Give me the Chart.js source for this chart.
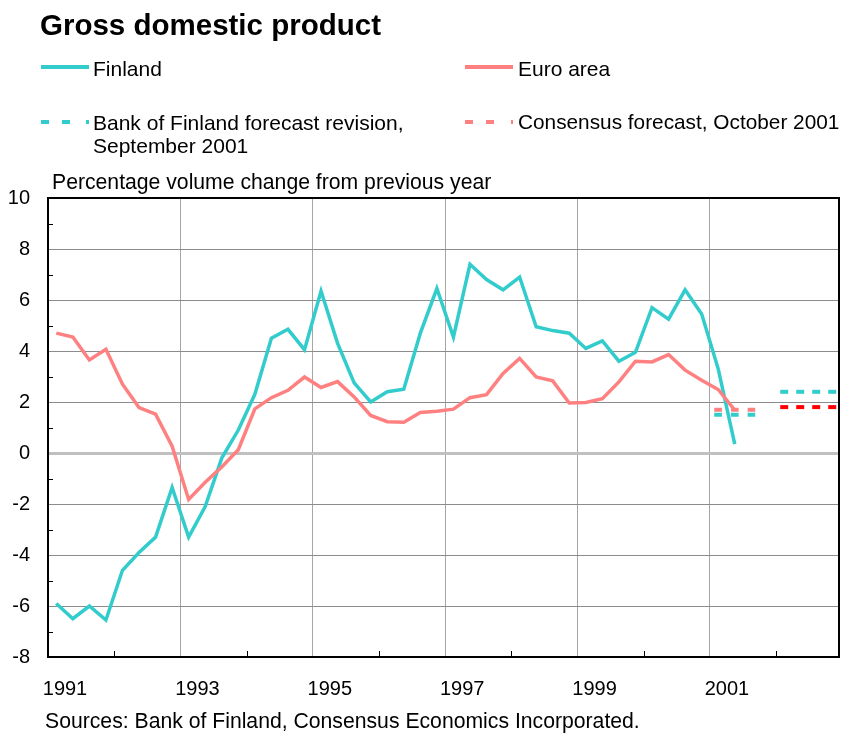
<!DOCTYPE html>
<html><head><meta charset="utf-8">
<script src="https://cdn.jsdelivr.net/npm/chart.js@4.4.1/dist/chart.umd.min.js"></script>
<style>
body{margin:0;background:#fff;}
#wrap{position:relative;width:846px;height:733px;font-family:"Liberation Sans",Arial,sans-serif;color:#000;overflow:hidden;}
canvas{position:absolute;left:0;top:0;}
.t{position:absolute;white-space:nowrap;line-height:1;font-size:21px;}
.sw{position:absolute;height:4px;width:48px;}
</style></head><body>
<div id="wrap">
<canvas id="c" width="846" height="733"></canvas>
<div class="t" style="left:40px;top:10px;font-size:29.5px;font-weight:bold">Gross domestic product</div>
<div class="sw" style="left:41px;top:65px;background:#33CCCC"></div>
<div class="t" style="left:93px;top:58px">Finland</div>
<div class="sw" style="left:465px;top:65px;background:#FF8080"></div>
<div class="t" style="left:518px;top:58px">Euro area</div>
<div class="sw" style="left:41px;top:120px;background:linear-gradient(to right,#33CCCC 0 8px,transparent 8px 21px,#33CCCC 21px 29px,transparent 29px 45.5px,#33CCCC 45.5px 48px)"></div>
<div class="t" style="left:93px;top:112px;line-height:22.6px">Bank of Finland forecast revision,<br>September 2001</div>
<div class="sw" style="left:465px;top:120px;background:linear-gradient(to right,#FF8080 0 8px,transparent 8px 21px,#FF8080 21px 29px,transparent 29px 45.5px,#FF8080 45.5px 48px)"></div>
<div class="t" style="left:518px;top:112px;font-size:20.8px">Consensus forecast, October 2001</div>
<div class="t" style="left:52px;top:171px;font-size:21.2px">Percentage volume change from previous year</div>
<div class="t" style="left:45px;top:710px;font-size:21.2px">Sources: Bank of Finland, Consensus Economics Incorporated.</div>
</div>
<script>
// ---- data ----
const quarters = [
 "1991 Q1","1991 Q2","1991 Q3","1991 Q4",
 "1992 Q1","1992 Q2","1992 Q3","1992 Q4",
 "1993 Q1","1993 Q2","1993 Q3","1993 Q4",
 "1994 Q1","1994 Q2","1994 Q3","1994 Q4",
 "1995 Q1","1995 Q2","1995 Q3","1995 Q4",
 "1996 Q1","1996 Q2","1996 Q3","1996 Q4",
 "1997 Q1","1997 Q2","1997 Q3","1997 Q4",
 "1998 Q1","1998 Q2","1998 Q3","1998 Q4",
 "1999 Q1","1999 Q2","1999 Q3","1999 Q4",
 "2000 Q1","2000 Q2","2000 Q3","2000 Q4",
 "2001 Q1","2001 Q2"
];
const finland = [
 -5.9,-6.5,-6.0,-6.55,
 -4.6,-3.9,-3.3,-1.35,
 -3.3,-2.1,-0.2,0.9,
 2.3,4.5,4.85,4.05,
 6.35,4.3,2.75,2.0,
 2.4,2.5,4.7,6.45,
 4.55,7.4,6.8,6.4,
 6.9,4.95,4.8,4.7,
 4.1,4.4,3.6,3.95,
 5.7,5.25,6.4,5.45,
 3.3,0.35
];
const euroArea = [
 4.7,4.55,3.65,4.07,
 2.7,1.78,1.52,0.27,
 -1.82,-1.15,-0.55,0.13,
 1.73,2.17,2.46,2.98,
 2.57,2.8,2.2,1.47,
 1.23,1.21,1.59,1.64,
 1.72,2.17,2.29,3.12,
 3.71,2.98,2.83,1.96,
 1.98,2.13,2.79,3.6,
 3.57,3.86,3.25,2.85,
 2.49,1.68
];
const forecastYears = [2001, 2002];
const bofForecast = [1.5, 2.4];
const consensusForecast = [1.7, 1.8];
const yearTicks = [1991,1992,1993,1994,1995,1996,1997,1998,1999,2000,2001,2002];
const yearLabels = ["1991","","1993","","1995","","1997","","1999","","2001",""];
const yValueTicks = [-8,-6,-4,-2,0,2,4,6,8,10];

// ---- build ----
const FONT = '"Liberation Sans", Arial, sans-serif';
const CYAN = '#33CCCC', PINK = '#FF8080', RED = '#FF0000';
const qx = q => { const [y, qq] = q.split(' Q'); return +y + (+qq - 0.5) / 4; };
const series = vals => vals.map((v, i) => ({x: qx(quarters[i]), y: v}));
const spans = [[0.065, 0.684], [0.062, 0.908]];
const fc = (vals, i) => [{x: forecastYears[i] + spans[i][0], y: vals[i]}, {x: forecastYears[i] + spans[i][1], y: vals[i]}];
const base = {pointRadius: 0, borderWidth: 3.5, tension: 0, fill: false, borderJoinStyle: 'miter'};
const dashed = {pointRadius: 0, borderWidth: 4, fill: false, borderCapStyle: 'butt'};

const framePlugin = {
  id: 'frame',
  afterDraw(chart) {
    const {ctx, chartArea: a, scales: {x, y}} = chart;
    ctx.save();
    ctx.strokeStyle = '#000';
    ctx.lineWidth = 1;
    for (let v = -7; v <= 9; v += 2) {
      const py = Math.round(y.getPixelForValue(v)) + 0.5;
      ctx.beginPath(); ctx.moveTo(a.left, py); ctx.lineTo(a.left + 5, py); ctx.stroke();
    }
    yearTicks.forEach(v => {
      if (v % 2 === 0) {
        const px = Math.round(x.getPixelForValue(v)) + 0.5;
        ctx.beginPath(); ctx.moveTo(px, a.bottom); ctx.lineTo(px, a.bottom - 6); ctx.stroke();
      }
    });
    ctx.lineWidth = 2;
    ctx.beginPath();
    ctx.moveTo(a.left, a.top); ctx.lineTo(a.right, a.top); ctx.lineTo(a.right, a.bottom);
    ctx.stroke();
    ctx.restore();
  }
};

new Chart(document.getElementById('c'), {
  type: 'line',
  data: {
    datasets: [
      {...base, label: 'Euro area', data: series(euroArea), borderColor: PINK},
      {...base, label: 'Finland', data: series(finland), borderColor: CYAN},
      {...dashed, label: 'Consensus 2001', data: fc(consensusForecast, 0), borderColor: PINK, borderDash: [7.7, 9]},
      {...dashed, label: 'BoF 2001', data: fc(bofForecast, 0), borderColor: CYAN, borderDash: [7.7, 9]},
      {...dashed, label: 'BoF 2002', data: fc(bofForecast, 1), borderColor: CYAN, borderDash: [8, 8]},
      {...dashed, label: 'Consensus 2002', data: fc(consensusForecast, 1), borderColor: RED, borderDash: [8, 8]}
    ]
  },
  options: {
    responsive: false,
    animation: false,
    devicePixelRatio: 1,
    layout: {padding: {top: 198, right: 7, left: 0, bottom: 0}},
    plugins: {legend: {display: false}, tooltip: {enabled: false}, title: {display: false}},
    scales: {
      x: {
        type: 'linear', min: 1991, max: 2002.95,
        afterBuildTicks: s => { s.ticks = yearTicks.map(v => ({value: v})); },
        afterFit: s => { s.height = 76; },
        grid: {
          drawTicks: false,
          color: c => (c.tick && c.tick.value % 2 === 1 && c.tick.value > 1991) ? '#a6a6a6' : 'rgba(0,0,0,0)',
          lineWidth: 1
        },
        border: {display: true, color: '#000', width: 2},
        ticks: {
          autoSkip: false, maxRotation: 0, padding: 20, labelOffset: 17,
          color: '#000', font: {family: FONT, size: 20},
          callback: (v) => { const i = yearTicks.indexOf(v); return i >= 0 ? yearLabels[i] : ''; }
        }
      },
      y: {
        min: -8, max: 10,
        afterBuildTicks: s => { s.ticks = yValueTicks.map(v => ({value: v})); },
        afterFit: s => { s.width = 48; },
        grid: {
          drawTicks: false,
          color: c => {
            const v = c.tick && c.tick.value;
            if (v === 0) return '#c0c0c0';
            if (v === -8 || v === 10) return 'rgba(0,0,0,0)';
            return '#8c8c8c';
          },
          lineWidth: c => (c.tick && c.tick.value === 0) ? 3 : 1
        },
        border: {display: true, color: '#000', width: 2},
        ticks: {padding: 18, color: '#000', font: {family: FONT, size: 20}}
      }
    }
  },
  plugins: [framePlugin]
});
</script>
</body></html>
